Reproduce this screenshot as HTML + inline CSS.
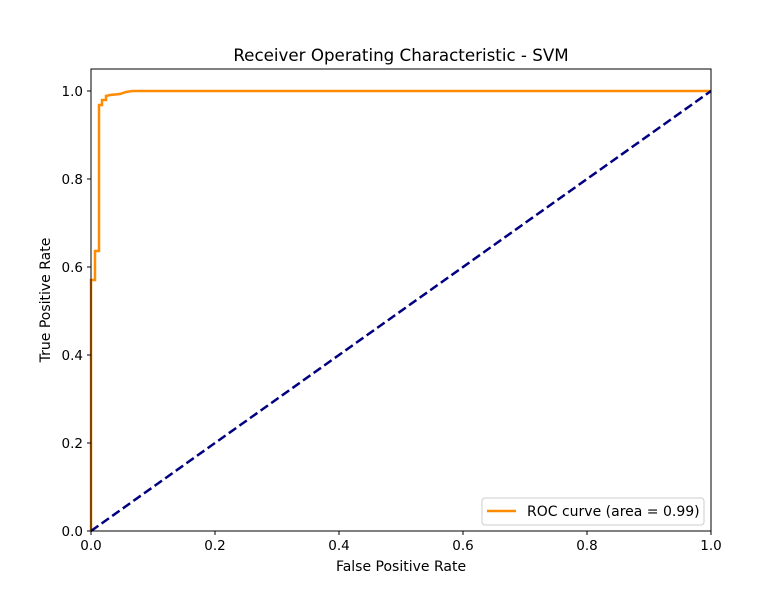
<!DOCTYPE html>
<html><head><style>body{margin:0;background:#fff}</style></head><body>
<svg width="778" height="585" xmlns="http://www.w3.org/2000/svg" font-family="DejaVu Sans, Liberation Sans, sans-serif">
<rect width="778" height="585" fill="#fff"/>
<polyline fill="none" stroke="#ff8c00" stroke-width="2.5" points="91,531 91,280 95,280 95,251 99,251 99,105 102,105 102,100 106,100 106,96 110,95 120,94 126,92 132,91 711,91"/>
<line x1="91" y1="531" x2="711" y2="91" stroke="#000080" stroke-width="2.5" stroke-dasharray="9,4"/>
<rect x="91" y="69" width="620" height="462" fill="none" stroke="#000" stroke-width="1"/>
<g stroke="#000">
<line x1="91" y1="531" x2="91" y2="535"/><line x1="215" y1="531" x2="215" y2="535"/><line x1="339" y1="531" x2="339" y2="535"/><line x1="463" y1="531" x2="463" y2="535"/><line x1="587" y1="531" x2="587" y2="535"/><line x1="711" y1="531" x2="711" y2="535"/>
<line x1="87" y1="531" x2="91" y2="531"/><line x1="87" y1="443" x2="91" y2="443"/><line x1="87" y1="355" x2="91" y2="355"/><line x1="87" y1="267" x2="91" y2="267"/><line x1="87" y1="179" x2="91" y2="179"/><line x1="87" y1="91" x2="91" y2="91"/>
</g>
<g font-size="13.5" text-anchor="middle">
<text x="91" y="550">0.0</text><text x="215" y="550">0.2</text><text x="339" y="550">0.4</text><text x="463" y="550">0.6</text><text x="587" y="550">0.8</text><text x="711" y="550">1.0</text>
<text x="401" y="571" font-size="14">False Positive Rate</text>
</g>
<g font-size="13.5" text-anchor="end">
<text x="83" y="536">0.0</text><text x="83" y="448">0.2</text><text x="83" y="360">0.4</text><text x="83" y="272">0.6</text><text x="83" y="184">0.8</text><text x="83" y="96">1.0</text>
</g>
<text transform="translate(50,300) rotate(-90)" font-size="14" text-anchor="middle">True Positive Rate</text>
<text x="401" y="61" font-size="16.7" text-anchor="middle">Receiver Operating Characteristic - SVM</text>
<rect x="482" y="498" width="222" height="27" rx="3" fill="#fff" stroke="#ccc"/>
<line x1="487" y1="511" x2="516" y2="511" stroke="#ff8c00" stroke-width="2.5"/>
<text x="527" y="516" font-size="14">ROC curve (area = 0.99)</text>
</svg>
</body></html>
